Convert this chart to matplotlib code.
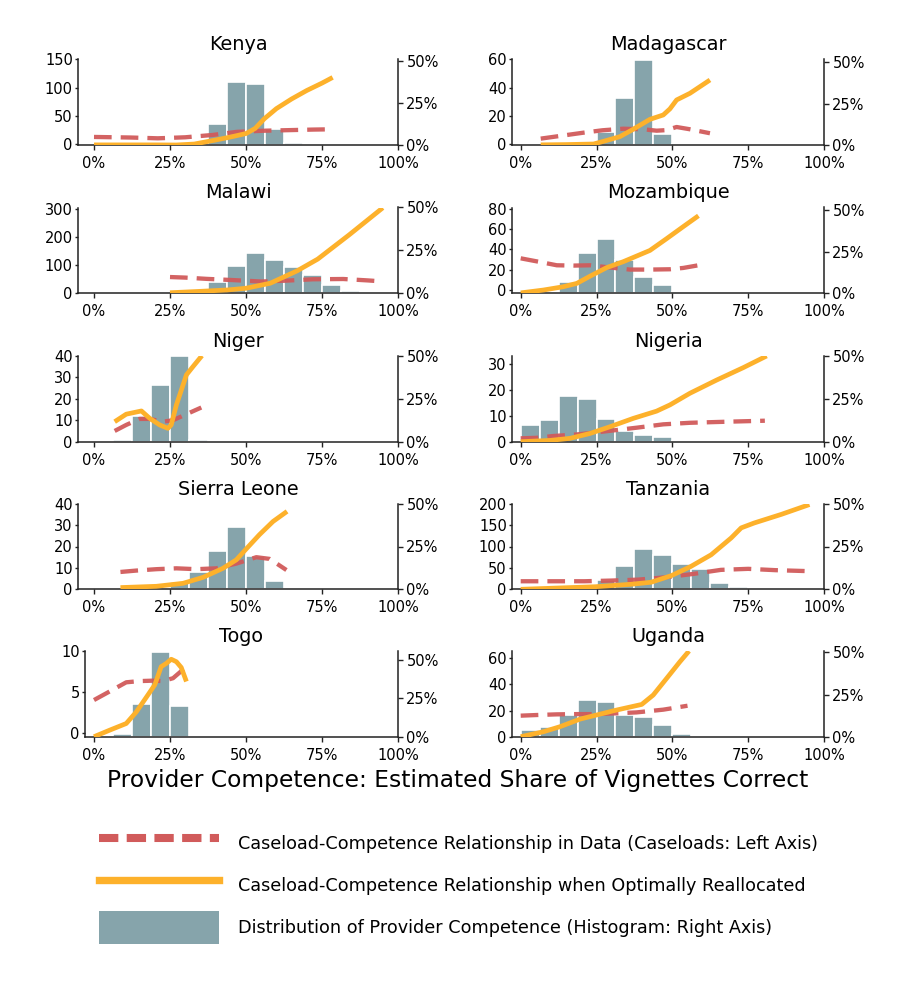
import matplotlib
matplotlib.use("Agg")
import matplotlib.pyplot as plt
from matplotlib.lines import Line2D
from matplotlib.patches import Patch

plt.rcParams['font.family'] = ['DejaVu Sans']

RED = '#D15B5B'
ORANGE = '#FDB12B'
BARC = '#86A4AB'
SPINE = '#222222'

bin_left = [0, 6.25, 12.5, 18.75, 25, 31.25, 37.5, 43.75, 50, 56.25, 62.5, 68.75, 75, 81.25, 87.5, 93.75]

# ---- Kenya ----
kenya_hist = [0, 0, 0, 0, 0, 1.6, 12.7, 37.5, 36.1, 9.5, 1.4, 0, 0, 0, 0, 0]
kenya_data_x = [0, 12, 21, 30, 39, 47, 56, 64, 72, 78]
kenya_data_y = [13, 12, 10.6, 12.4, 16.5, 22, 24, 25, 26, 26.5]
kenya_opt_x = [0, 10, 20, 27, 33, 40, 45, 50, 53, 56, 60, 65, 70, 75, 78.5]
kenya_opt_y = [-1, -1, -1, -1.2, 0.5, 7.6, 13, 19, 28, 45, 63, 80, 95, 108, 118]

# ---- Madagascar ----
mad_hist = [0, 0, 0, 0, 8.1, 28.4, 51.6, 6.9, 0.4, 0, 0, 0, 0, 0, 0, 0]
mad_data_x = [6.6, 13, 20.7, 27, 33.8, 40.4, 44.8, 48, 51.4, 55.8, 62.4]
mad_data_y = [4, 5.9, 8.2, 9.9, 11, 10.6, 9.6, 10, 12.2, 10.6, 7.8]
mad_opt_x = [6.6, 15, 24, 27, 32.7, 36.6, 42.6, 47, 49.2, 51.4, 55.8, 62.4]
mad_opt_y = [-0.4, -0.2, 0.2, 1.9, 5.4, 10, 17.6, 20.7, 25, 31.3, 36, 45.4]

# ---- Malawi ----
malawi_hist = [0, 0, 0, 0, 0, 0, 6.6, 16.1, 23.7, 19.4, 15.3, 10.4, 4.9, 1.4, 0.8, 0]
malawi_data_x = [25, 30, 37, 46, 55, 63, 72, 82, 90, 94]
malawi_data_y = [58, 56, 51.5, 47, 42, 45, 50, 51, 46, 43]
malawi_opt_x = [25, 35, 44, 50, 58, 66.8, 73.6, 84, 95]
malawi_opt_y = [2, 7, 12, 18, 36, 80, 122, 209, 305]

# ---- Mozambique ----
moz_hist = [0, 0, 6.5, 23.9, 32.4, 19.8, 9.7, 4.9, 0.8, 0, 0, 0, 0, 0, 0, 0]
moz_data_x = [0, 6.4, 11.9, 17.4, 22.9, 29.5, 36, 42.6, 49.2, 53.6, 58.6]
moz_data_y = [31.3, 27.7, 24.5, 24.2, 24.5, 22.3, 20.3, 20.3, 20.6, 21.9, 24.5]
moz_opt_x = [0, 7.5, 14, 18.5, 22.9, 28.4, 33.8, 42.6, 48, 53.6, 58.6]
moz_opt_y = [-2.5, 0.3, 3.5, 6.8, 13.9, 22.3, 28, 39, 50.3, 62.3, 72.9]

# ---- Niger ----
niger_hist = [0, 1.0, 14.8, 33.1, 50.2, 1.2, 0, 0, 0, 0, 0, 0, 0, 0, 0, 0]
niger_data_x = [6.8, 10.6, 15, 18.3, 22.7, 26, 30.4, 35.3]
niger_data_y = [5, 7.8, 10.6, 10.6, 9.3, 10, 12.8, 15.9]
niger_opt_x = [6.8, 10.6, 15.6, 18.3, 21.6, 24.3, 25.4, 27.1, 30.4, 32.6, 35.5]
niger_opt_y = [9.3, 12.8, 14.3, 10.9, 7.8, 6.2, 7.8, 17.1, 31.1, 35, 40]

# ---- Nigeria ----
nga_hist = [9.7, 12.6, 26.5, 24.9, 13.2, 6.2, 3.9, 2.7, 0.4, 0, 0, 0, 0, 0, 0, 0]
nga_data_x = [0, 5.3, 10.8, 18.5, 25, 31.6, 38.2, 47, 55.8, 64.6, 72.3, 80.5]
nga_data_y = [1.3, 1.5, 2.2, 2.8, 3.6, 4.5, 5.4, 6.7, 7.3, 7.6, 7.85, 8.1]
nga_opt_x = [0, 9.7, 16.3, 22.9, 29.5, 37.1, 44.8, 49.2, 55.8, 64.6, 73.4, 81.1]
nga_opt_y = [0, 0.5, 1.3, 3.2, 5.8, 9, 11.8, 14.2, 18.7, 23.8, 28.6, 33.1]

# ---- Sierra Leone ----
sl_hist = [0, 0, 0, 0, 4.1, 10, 22.1, 36.1, 19.5, 4.9, 0.4, 0, 0, 0, 0, 0]
sl_data_x = [8.7, 13.9, 20.5, 27.1, 33.7, 40.2, 46.8, 53.4, 57.8, 63.3]
sl_data_y = [8.1, 8.75, 9.4, 9.8, 9.4, 9.8, 12, 15, 14.2, 9]
sl_opt_x = [8.7, 20.5, 29.3, 35.9, 42.4, 46.8, 50, 54.4, 58.9, 63.5]
sl_opt_y = [0.8, 1.4, 2.8, 5.6, 9.8, 13.75, 18.75, 25.5, 31.7, 36.4]

# ---- Tanzania ----
tz_hist = [0, 0, 0, 2.5, 5.5, 13.9, 23.6, 20.1, 14.6, 12.1, 3.5, 1.2, 0, 0, 0, 0]
tz_data_x = [0, 12, 21, 30, 38.7, 47.7, 57, 66, 75, 84, 95]
tz_data_y = [18.8, 18.8, 18.8, 20.4, 22.6, 28, 36, 45.4, 47.8, 44.7, 42.4]
tz_opt_x = [0, 24.5, 36.5, 43, 49.7, 56, 62.8, 69.4, 72.7, 77, 85.9, 95.2]
tz_opt_y = [0, 6, 11.8, 16.5, 32, 53, 80.7, 120, 143.5, 155, 175, 198]

# ---- Togo ----
togo_hist = [0, 1.7, 21.6, 55.6, 19.9, 0, 0, 0, 0, 0, 0, 0, 0, 0, 0, 0]
togo_data_x = [0, 5.2, 10.6, 15, 19.4, 22.7, 26, 30.4]
togo_data_y = [4.05, 5.1, 6.2, 6.35, 6.4, 6.35, 6.7, 8.1]
togo_opt_x = [0, 5.2, 10.6, 13.9, 17.8, 20, 22.1, 23.8, 25.4, 27.1, 28.7, 30.4]
togo_opt_y = [-0.4, 0.4, 1.2, 2.6, 4.7, 5.9, 8.1, 8.5, 9.0, 8.7, 8, 6.3]

# ---- Uganda ----
uga_hist = [4, 5.5, 12.8, 21.5, 20.6, 12.6, 11.9, 6.9, 1.4, 0, 0, 0, 0, 0, 0, 0]
uga_data_x = [0, 5.3, 11.9, 18.5, 25, 31.6, 38.2, 47, 55]
uga_data_y = [16.1, 16.6, 17.1, 17.3, 17.3, 17.9, 18.6, 20.7, 23.7]
uga_opt_x = [0, 7.5, 13, 19.6, 25, 31.6, 39.9, 43.7, 48.1, 52.5, 55.5]
uga_opt_y = [0, 3.8, 7.7, 13.5, 16.6, 20.4, 24.7, 31.9, 44.6, 57.4, 65.6]

x_ticks = [0, 25, 50, 75, 100]
x_ticklabels = ['0%', '25%', '50%', '75%', '100%']
right_ticks = [0, 25, 50]
right_ticklabels = ['0%', '25%', '50%']

legend_labels = [
    'Caseload-Competence Relationship in Data (Caseloads: Left Axis)',
    'Caseload-Competence Relationship when Optimally Reallocated',
    'Distribution of Provider Competence (Histogram: Right Axis)',
]
xlabel = 'Provider Competence: Estimated Share of Vignettes Correct'

# panel: (name, hist, data_x, data_y, opt_x, opt_y, left ticks, left ylim, right ylim, axes rect px (x0, x1, top, bottom))
panels = [
    ('Kenya', kenya_hist, kenya_data_x, kenya_data_y, kenya_opt_x, kenya_opt_y,
     [0, 50, 100, 150], (-1.2, 150), (0, 51), (78, 398, 59.3, 145)),
    ('Madagascar', mad_hist, mad_data_x, mad_data_y, mad_opt_x, mad_opt_y,
     [0, 20, 40, 60], (-0.5, 60), (0, 51.8), (512, 824, 59.3, 145)),
    ('Malawi', malawi_hist, malawi_data_x, malawi_data_y, malawi_opt_x, malawi_opt_y,
     [0, 100, 200, 300], (0, 306), (0, 50), (78, 398, 207.5, 293.3)),
    ('Mozambique', moz_hist, moz_data_x, moz_data_y, moz_opt_x, moz_opt_y,
     [0, 20, 40, 60, 80], (-2.9, 81), (0, 51.4), (512, 824, 207.5, 293.3)),
    ('Niger', niger_hist, niger_data_x, niger_data_y, niger_opt_x, niger_opt_y,
     [0, 10, 20, 30, 40], (0, 40), (0, 50.2), (78, 398, 355.7, 441.7)),
    ('Nigeria', nga_hist, nga_data_x, nga_data_y, nga_opt_x, nga_opt_y,
     [0, 10, 20, 30], (0, 33.2), (0, 50.2), (512, 824, 355.7, 441.7)),
    ('Sierra Leone', sl_hist, sl_data_x, sl_data_y, sl_opt_x, sl_opt_y,
     [0, 10, 20, 30, 40], (0, 40), (0, 50), (78, 398, 503.7, 589.3)),
    ('Tanzania', tz_hist, tz_data_x, tz_data_y, tz_opt_x, tz_opt_y,
     [0, 50, 100, 150, 200], (0, 200), (0, 50), (512, 824, 503.7, 589.3)),
    ('Togo', togo_hist, togo_data_x, togo_data_y, togo_opt_x, togo_opt_y,
     [0, 5, 10], (-0.4, 10), (0, 56), (85, 398, 651, 736.7)),
    ('Uganda', uga_hist, uga_data_x, uga_data_y, uga_opt_x, uga_opt_y,
     [0, 20, 40, 60], (0, 65.6), (0, 50.8), (512, 824, 651, 736.7)),
]

W, H = 917, 1000
fig = plt.figure(figsize=(W / 100, H / 100), dpi=100)

DASH = (4.1, 2.1)
LW = 3.1

for (name, hist, dx, dy, ox, oy, lticks, lylim, rylim, rect) in panels:
    x0, x1, top, bot = rect
    ax = fig.add_axes([x0 / W, 1 - bot / H, (x1 - x0) / W, (bot - top) / H])
    ax2 = ax.twinx()
    zero_px = 94 if x0 < 450 else 520.7
    xmin = -(zero_px - x0) / ((x1 - zero_px) / 100.0)
    ax.set_xlim(xmin, 100)
    # histogram on right axis
    ax2.bar([b + 3.125 for b in bin_left], hist, width=6.25, color=BARC,
            edgecolor='white', linewidth=1.2, zorder=1)
    ax2.set_ylim(*rylim)
    ax2.set_yticks(right_ticks)
    ax2.set_yticklabels(right_ticklabels)
    # lines on left axis
    ax.plot(dx, dy, color=RED, lw=LW, dashes=DASH, zorder=3, alpha=0.95)
    ax.plot(ox, oy, color=ORANGE, lw=3.4, zorder=4, solid_capstyle='butt')
    ax.set_ylim(*lylim)
    ax.set_yticks(lticks)
    ax.set_xticks(x_ticks)
    ax.set_xticklabels(x_ticklabels)
    ax.set_zorder(ax2.get_zorder() + 1)
    ax.patch.set_visible(False)
    for s in ['top', 'right']:
        ax.spines[s].set_visible(False)
    for s in ['top', 'left', 'bottom']:
        ax2.spines[s].set_visible(False)
    for s in ['left', 'bottom']:
        ax.spines[s].set_color(SPINE)
        ax.spines[s].set_linewidth(1.1)
    ax2.spines['right'].set_color(SPINE)
    ax2.spines['right'].set_linewidth(1.1)
    ax.tick_params(axis='x', length=3.6, width=1.0, pad=4.3, labelsize=10.5,
                   color=SPINE, labelcolor='black')
    ax.tick_params(axis='y', length=2.2, width=1.0, pad=1.5, labelsize=10.5,
                   color=SPINE, labelcolor='black')
    ax2.tick_params(axis='y', length=3.6, width=1.0, pad=2.4, labelsize=10.5,
                    color=SPINE, labelcolor='black')
    ax.set_title(name, fontsize=13.9, pad=6.5)

fig.text(458 / W, 1 - 781 / H, xlabel, ha='center', va='center', fontsize=16.8)

fs = 12.73
fs_px = fs * 100 / 72
handles = [
    Line2D([], [], color=RED, lw=5.8, dashes=(2.4, 1.04)),
    Line2D([], [], color=ORANGE, lw=5.3),
    Patch(facecolor=BARC, edgecolor='none'),
]
hh = (23.5 - 0.245 * fs) / (0.65 * fs)
fig.legend(handles, legend_labels, loc='upper left',
           bbox_to_anchor=((99.3 - 0.4 * fs_px) / W, 1 - 820 / H),
           frameon=False, fontsize=fs, handlelength=120 / fs_px,
           handleheight=hh, handletextpad=19 / fs_px,
           labelspacing=9.3 / fs_px, borderaxespad=0)

fig.savefig('out.png', dpi=100)
